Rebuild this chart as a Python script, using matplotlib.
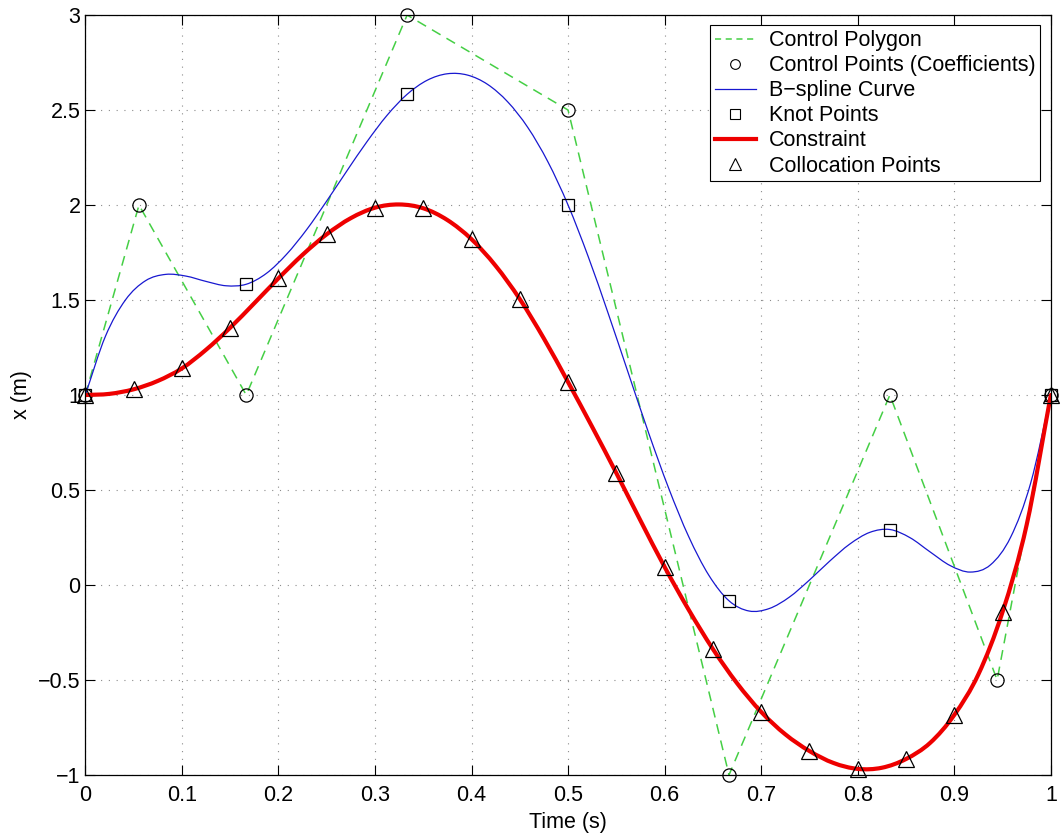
import numpy as np
import matplotlib
matplotlib.use('Agg')
import matplotlib.pyplot as plt
from matplotlib.path import Path
from matplotlib.patches import PathPatch
from matplotlib.lines import Line2D

plt.rcParams['font.family'] = ['Liberation Sans', 'DejaVu Sans']

# control polygon / coefficients
ctrl_t = [0.0, 0.0556, 0.1667, 0.3333, 0.5, 0.6667, 0.8333, 0.9444, 1.0]
ctrl_x = [1.0, 2.0, 1.0, 3.0, 2.5, -1.0, 1.0, -0.5, 1.0]

# knot points on the curve
knot_t = [0.0, 0.1667, 0.3333, 0.5, 0.6667, 0.8333, 1.0]
knot_x = [1.0, 1.583, 2.583, 2.0, -0.083, 0.292, 1.0]

# B-spline curve, read every 1/48 s
spline_t = np.linspace(0, 1, 49)
spline_x = [1.0, 1.309, 1.501, 1.602, 1.635, 1.626, 1.598, 1.575,
            1.583, 1.640, 1.740, 1.870, 2.021, 2.179, 2.333, 2.472,
            2.583, 2.657, 2.691, 2.684, 2.635, 2.543, 2.408, 2.227,
            2.000, 1.729, 1.428, 1.114, 0.802, 0.510, 0.254, 0.051,
            -0.083, -0.137, -0.124, -0.064, 0.026, 0.125, 0.215, 0.277,
            0.292, 0.249, 0.174, 0.102, 0.068, 0.106, 0.251, 0.537, 1.0]

# constraint, read every 0.025 s
constr_t = np.linspace(0, 1, 41)
constr_x = [1.0, 1.006, 1.03, 1.074, 1.14, 1.238, 1.354, 1.483, 1.614, 1.738,
            1.846, 1.931, 1.986, 2.003, 1.983, 1.921, 1.82, 1.68, 1.505, 1.297,
            1.068, 0.832, 0.589, 0.339, 0.095, -0.131, -0.337, -0.517, -0.668, -0.786,
            -0.874, -0.937, -0.968, -0.962, -0.916, -0.831, -0.684, -0.47, -0.142, 0.317,
            1.0]

# collocation points every 0.05 s
coll_t = constr_t[::2]
coll_x = constr_x[::2]

xticks = [0, 0.1, 0.2, 0.3, 0.4, 0.5, 0.6, 0.7, 0.8, 0.9, 1]
xticklabels = ['0', '0.1', '0.2', '0.3', '0.4', '0.5', '0.6', '0.7', '0.8', '0.9', '1']
yticks = [-1, -0.5, 0, 0.5, 1, 1.5, 2, 2.5, 3]
yticklabels = ['\u22121', '\u22120.5', '0', '0.5', '1', '1.5', '2', '2.5', '3']

GREEN = '#45cf45'
BLUE = '#1818d0'
RED = '#ee0000'
FS = 15.5


def smooth_path(xs, ys):
    # draw the read points as a smooth (bezier) line instead of straight segments
    xs = np.asarray(xs, float)
    ys = np.asarray(ys, float)
    mx = np.gradient(xs)
    my = np.gradient(ys)
    verts = [(xs[0], ys[0])]
    codes = [Path.MOVETO]
    for i in range(len(xs) - 1):
        verts += [(xs[i] + mx[i] / 3, ys[i] + my[i] / 3),
                  (xs[i + 1] - mx[i + 1] / 3, ys[i + 1] - my[i + 1] / 3),
                  (xs[i + 1], ys[i + 1])]
        codes += [Path.CURVE4] * 3
    return Path(verts, codes)


fig = plt.figure(figsize=(10.61, 8.36), dpi=100)
ax = fig.add_axes([0.0804, 0.073, 0.910, 0.909])

mk = dict(linestyle='none', markerfacecolor='none', markeredgecolor='black',
          markeredgewidth=0.9, clip_on=False)

ax.plot(ctrl_t, ctrl_x, color=GREEN, linestyle=(0, (6.5, 4.5)), linewidth=1.1, zorder=2.0)
ax.plot(ctrl_t, ctrl_x, marker='o', markersize=9.5, zorder=2.1, **mk)
ax.add_patch(PathPatch(smooth_path(spline_t, spline_x), facecolor='none',
                       edgecolor=BLUE, linewidth=0.9, zorder=2.2))
ax.plot(knot_t, knot_x, marker='s', markersize=8.5, zorder=2.3, **mk)
ax.add_patch(PathPatch(smooth_path(constr_t, constr_x), facecolor='none',
                       edgecolor=RED, linewidth=3.0, capstyle='round',
                       joinstyle='round', zorder=2.4))
ax.plot(coll_t, coll_x, marker='^', markersize=11, zorder=2.5, **mk)

ax.set_xlim(0, 1)
ax.set_ylim(-1, 3)
ax.set_xticks(xticks)
ax.set_xticklabels(xticklabels)
ax.set_yticks(yticks)
ax.set_yticklabels(yticklabels)
ax.tick_params(direction='in', length=7, width=0.8, top=True, right=True, labelsize=FS)
ax.tick_params(axis='x', pad=7.5)
ax.tick_params(axis='y', pad=3.5)
ax.grid(True, color='0.55', linestyle=(0, (1, 6)), linewidth=0.8)
for s in ax.spines.values():
    s.set_linewidth(0.9)

ax.set_xlabel('Time (s)', fontsize=FS, labelpad=4)
ax.set_ylabel('x (m)', fontsize=FS, labelpad=4)

handles = [
    Line2D([], [], color=GREEN, linestyle=(0, (4, 3)), linewidth=1.1, label='Control Polygon'),
    Line2D([], [], marker='o', markersize=7, linestyle='none', markerfacecolor='none',
           markeredgecolor='black', markeredgewidth=0.8, label='Control Points (Coefficients)'),
    Line2D([], [], color=BLUE, linewidth=0.9, label='B\u2212spline Curve'),
    Line2D([], [], marker='s', markersize=6.5, linestyle='none', markerfacecolor='none',
           markeredgecolor='black', markeredgewidth=0.8, label='Knot Points'),
    Line2D([], [], color=RED, linewidth=3.0, label='Constraint'),
    Line2D([], [], marker='^', markersize=8, linestyle='none', markerfacecolor='none',
           markeredgecolor='black', markeredgewidth=0.8, label='Collocation Points'),
]
leg = ax.legend(handles=handles, loc='upper right', fontsize=FS, frameon=True,
                fancybox=False, edgecolor='black', framealpha=1, handlelength=1.9,
                labelspacing=0.19, borderpad=0.22, handletextpad=0.62,
                borderaxespad=0.48)
leg.get_frame().set_linewidth(0.8)

fig.savefig('out.png', dpi=100)
